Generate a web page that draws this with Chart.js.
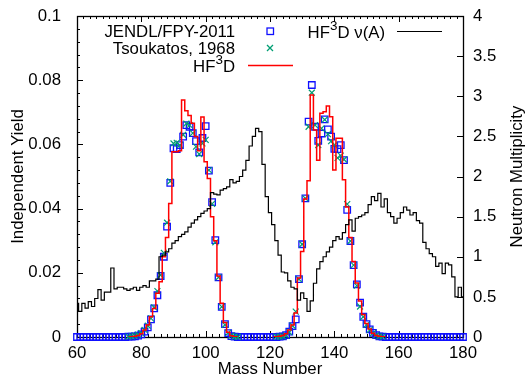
<!DOCTYPE html>
<html>
<head>
<meta charset="utf-8">
<script src="https://cdn.jsdelivr.net/npm/chart.js@4.4.1/dist/chart.umd.min.js"></script>
<style>
  html, body { margin: 0; padding: 0; background: #fff; }
</style>
</head>
<body>
<canvas id="yieldChart" width="532" height="380"></canvas>
<script>
// mass numbers A = 60 .. 180
const massNumbers = [
  60, 61, 62, 63, 64, 65, 66, 67, 68, 69,
  70, 71, 72, 73, 74, 75, 76, 77, 78, 79,
  80, 81, 82, 83, 84, 85, 86, 87, 88, 89,
  90, 91, 92, 93, 94, 95, 96, 97, 98, 99,
  100, 101, 102, 103, 104, 105, 106, 107, 108, 109,
  110, 111, 112, 113, 114, 115, 116, 117, 118, 119,
  120, 121, 122, 123, 124, 125, 126, 127, 128, 129,
  130, 131, 132, 133, 134, 135, 136, 137, 138, 139,
  140, 141, 142, 143, 144, 145, 146, 147, 148, 149,
  150, 151, 152, 153, 154, 155, 156, 157, 158, 159,
  160, 161, 162, 163, 164, 165, 166, 167, 168, 169,
  170, 171, 172, 173, 174, 175, 176, 177, 178, 179,
  180
];

// JENDL/FPY-2011 independent yield
const jendlYield = [
  0, 0, 0, 0, 0, 0, 0, 0, 0, 0,
  0, 0, 0, 0, 0, 0, 0.0001, 0.0001, 0.0002, 0.0004,
  0.0008, 0.0017, 0.003, 0.0055, 0.0089, 0.013, 0.019, 0.025, 0.0344, 0.048,
  0.0588, 0.0585, 0.0598, 0.0624, 0.066, 0.0655, 0.0635, 0.061, 0.0575, 0.062,
  0.0657, 0.0518, 0.042, 0.0302, 0.0186, 0.0094, 0.004, 0.0012, 0.0003, 0.0001,
  0, 0, 0, 0, 0, 0, 0, 0, 0, 0,
  0, 0, 0, 0.0001, 0.0002, 0.0006, 0.0017, 0.0034, 0.0055, 0.018,
  0.0289, 0.0432, 0.0671, 0.0785, 0.0655, 0.0611, 0.0634, 0.0678, 0.0647, 0.0624,
  0.0586, 0.0585, 0.0598, 0.0551, 0.0396, 0.0299, 0.0224, 0.0164, 0.0107, 0.0063,
  0.004, 0.0024, 0.0013, 0.0006, 0.0002, 0.0001, 0, 0, 0, 0,
  0, 0, 0, 0, 0, 0, 0, 0, 0, 0,
  0, 0, 0, 0, 0, 0, 0, 0, 0, 0,
  0
];

// Tsoukatos, 1968
const tsoukatosYield = [
  null, null, null, null, null, null, null, null, null, null,
  null, null, null, null, null, null, 0.0001, 0.0002, 0.0004, 0.0007,
  0.0012, 0.0022, 0.0035, 0.0058, 0.0092, 0.0143, 0.0193, 0.0262, 0.0356, 0.0485,
  0.0603, 0.0605, 0.0598, 0.063, 0.0665, 0.066, 0.0635, 0.0593, 0.057, 0.0603,
  0.0614, 0.052, 0.0415, 0.0295, 0.0186, 0.0094, 0.0038, 0.0013, 0.0004, 0.0001,
  0, null, null, null, null, null, null, null, null, null,
  null, null, 0.0001, 0.0001, 0.0002, 0.0005, 0.0015, 0.0035, 0.0079, 0.018,
  0.0289, 0.0432, 0.0655, 0.0761, 0.066, 0.0598, 0.065, 0.0677, 0.0632, 0.061,
  0.0598, 0.0558, 0.0565, 0.0553, 0.0414, 0.0299, 0.0224, 0.016, 0.0095, 0.0063,
  0.0038, 0.0022, 0.0012, 0.0005, 0.0002, 0.0001, null, null, null, null,
  null, null, null, null, null, null, null, null, null, null,
  null, null, null, null, null, null, null, null, null, null,
  null
];

// HF3D calculated yield
const hf3dYield = [
  null, null, null, null, null, null, null, null, null, null,
  null, null, null, null, null, null, 0, 0.0001, 0.0002, 0.0005,
  0.001, 0.0022, 0.0037, 0.0063, 0.0089, 0.0136, 0.0172, 0.025, 0.031, 0.0416,
  0.0577, 0.0577, 0.058, 0.0738, 0.0705, 0.069, 0.0666, 0.0625, 0.058, 0.0685,
  0.0546, 0.0494, 0.0375, 0.03, 0.019, 0.0105, 0.0045, 0.0015, 0.0004, 0.0001,
  0, null, null, null, null, null, null, null, null, null,
  null, 0, 0.0001, 0.0002, 0.0005, 0.001, 0.0022, 0.0037, 0.0075, 0.0184,
  0.0266, 0.043, 0.0487, 0.0754, 0.0645, 0.0551, 0.0697, 0.0702, 0.072, 0.0686,
  0.052, 0.0619, 0.0619, 0.049, 0.0405, 0.031, 0.0235, 0.0168, 0.0112, 0.007,
  0.0042, 0.0025, 0.0012, 0.0005, 0.0002, 0.0001, 0, null, null, null,
  null, null, null, null, null, null, null, null, null, null,
  null, null, null, null, null, null, null, null, null, null,
  null
];

// HF3D neutron multiplicity nu(A)
const hf3dNu = [
  0.42, 0.32, 0.42, 0.36, 0.44, 0.38, 0.48, 0.59, 0.46, 0.56,
  0.56, 0.86, 0.6, 0.62, 0.62, 0.6, 0.58, 0.6, 0.62, 0.58,
  0.62, 0.64, 0.62, 0.7, 0.7, 0.72, 1.0, 1.02, 1.06, 1.1,
  1.17, 1.2, 1.25, 1.28, 1.31, 1.37, 1.42, 1.46, 1.5, 1.54,
  1.57, 1.6, 1.8, 1.78, 1.77, 1.83, 1.85, 1.87, 1.96, 1.92,
  1.94, 2.0, 2.08, 2.2, 2.38, 2.5, 2.6, 2.56, 2.15, 1.75,
  1.55, 1.4, 1.2, 1.02, 0.81, 0.8, 0.7, 0.62, 0.6, 0.46,
  0.55, 0.48, 0.32, 0.45, 0.67, 0.85, 0.94, 1.0, 1.06, 1.12,
  1.2, 1.25, 1.22, 1.3, 1.4, 1.46, 1.32, 1.48, 1.5, 1.52,
  1.55, 1.65, 1.75, 1.7, 1.79, 1.62, 1.72, 1.55, 1.5, 1.42,
  1.48, 1.55, 1.62, 1.58, 1.52, 1.55, 1.45, 1.42, 1.18, 1.1,
  1.04, 1.0, 0.88, 0.92, 0.79, 0.92, 0.9, 0.75, 0.5, 0.62,
  0.5
];

const massTicks = [60, 80, 100, 120, 140, 160, 180];
const yieldTicks = [0, 0.02, 0.04, 0.06, 0.08, 0.1];
const nuTicks = [0, 0.5, 1, 1.5, 2, 2.5, 3, 3.5, 4];

const FONT = "'Liberation Sans', Arial, Helvetica, sans-serif";
const FS = 16.8;

function toPoints(values) {
  return massNumbers.map((a, i) => ({ x: a, y: values[i] }));
}

// draw text with "HF^3D" style superscript, right aligned at xr
function drawRich(ctx, parts, xr, baseline) {
  let total = 0;
  parts.forEach(p => {
    ctx.font = (p.sup ? FS * 0.8 : FS) + 'px ' + FONT;
    p.w = ctx.measureText(p.t).width;
    total += p.w;
  });
  let x = xr - total;
  ctx.textAlign = 'left';
  ctx.textBaseline = 'alphabetic';
  parts.forEach(p => {
    ctx.font = (p.sup ? FS * 0.8 : FS) + 'px ' + FONT;
    ctx.fillText(p.t, x, p.sup ? baseline - 8 : baseline);
    x += p.w;
  });
}

// fixed plot box: no extra padding from tick labels
function fixBox(size) {
  return s => {
    if (s.isHorizontal()) s.height = size; else s.width = size;
    s.paddingTop = 0;
    s.paddingBottom = 0;
    s.paddingLeft = 0;
    s.paddingRight = 0;
  };
}

const framePlugin = {
  id: 'frameTicks',
  beforeDatasetsDraw(chart) {
    const { ctx, chartArea: a, scales } = chart;
    ctx.save();
    ctx.strokeStyle = '#000';
    ctx.lineWidth = 1;
    ctx.beginPath();
    // x ticks on bottom and top (minor every 2)
    for (let v = 60; v <= 180; v += 2) {
      const px = Math.round(scales.x.getPixelForValue(v)) + 0.5;
      const len = v % 20 === 0 ? 6 : 3;
      ctx.moveTo(px, a.bottom); ctx.lineTo(px, a.bottom - len);
      ctx.moveTo(px, a.top); ctx.lineTo(px, a.top + len);
    }
    // left yield ticks (minor every 0.004)
    for (let i = 0; i <= 25; i++) {
      const py = Math.round(scales.y.getPixelForValue(i * 0.004)) + 0.5;
      const len = i % 5 === 0 ? 6 : 3;
      ctx.moveTo(a.left, py); ctx.lineTo(a.left + len, py);
    }
    // right multiplicity ticks
    nuTicks.forEach(v => {
      const py = Math.round(scales.y2.getPixelForValue(v)) + 0.5;
      ctx.moveTo(a.right, py); ctx.lineTo(a.right - 6, py);
    });
    ctx.stroke();
    ctx.lineWidth = 1.3;
    ctx.strokeRect(a.left + 0.5, a.top + 0.5, a.right - a.left, a.bottom - a.top);
    ctx.restore();
  },
  afterDraw(chart) {
    const { ctx, chartArea: a } = chart;
    ctx.save();
    ctx.fillStyle = '#000';
    ctx.font = FS + 'px ' + FONT;

    // axis titles
    ctx.textAlign = 'center';
    ctx.textBaseline = 'middle';
    ctx.fillText('Mass Number', (a.left + a.right) / 2, 369);
    ctx.save();
    ctx.translate(18, (a.top + a.bottom) / 2);
    ctx.rotate(-Math.PI / 2);
    ctx.fillText('Independent Yield', 0, 0);
    ctx.restore();
    ctx.save();
    ctx.translate(517, (a.top + a.bottom) / 2);
    ctx.rotate(-Math.PI / 2);
    ctx.fillText('Neutron Multiplicity', 0, 0);
    ctx.restore();

    // key
    ctx.textAlign = 'right';
    ctx.textBaseline = 'alphabetic';
    ctx.fillText('JENDL/FPY-2011', 235, 37);
    ctx.fillText('Tsoukatos, 1968', 235, 54);
    drawRich(ctx, [{ t: 'HF' }, { t: '3', sup: true }, { t: 'D' }], 235, 72);
    drawRich(ctx, [{ t: 'HF' }, { t: '3', sup: true }, { t: 'D \u03bd(A)' }], 385, 38);

    ctx.lineWidth = 1.3;
    ctx.strokeStyle = '#1010ff';
    ctx.strokeRect(267, 28, 6.5, 6.5);
    ctx.strokeStyle = '#009e73';
    ctx.beginPath();
    ctx.moveTo(267, 45); ctx.lineTo(273, 51);
    ctx.moveTo(273, 45); ctx.lineTo(267, 51);
    ctx.stroke();
    ctx.strokeStyle = '#ff0000';
    ctx.lineWidth = 1.5;
    ctx.beginPath();
    ctx.moveTo(248, 65.5); ctx.lineTo(293, 65.5);
    ctx.stroke();
    ctx.strokeStyle = '#000';
    ctx.lineWidth = 1.2;
    ctx.beginPath();
    ctx.moveTo(397, 31.5); ctx.lineTo(442, 31.5);
    ctx.stroke();
    ctx.restore();
  }
};

new Chart(document.getElementById('yieldChart'), {
  type: 'line',
  data: {
    datasets: [
      {
        label: 'JENDL/FPY-2011',
        data: toPoints(jendlYield),
        yAxisID: 'y',
        showLine: false,
        pointStyle: 'rect',
        pointRadius: 4.6,
        pointBorderWidth: 1.3,
        pointBorderColor: '#1010ff',
        pointBackgroundColor: 'rgba(0,0,0,0)',
        clip: false,
        order: 4
      },
      {
        label: 'Tsoukatos, 1968',
        data: toPoints(tsoukatosYield),
        yAxisID: 'y',
        showLine: false,
        pointStyle: 'crossRot',
        pointRadius: 4.2,
        pointBorderWidth: 1.2,
        pointBorderColor: '#009e73',
        clip: false,
        order: 3
      },
      {
        label: 'HF3D',
        data: toPoints(hf3dYield),
        yAxisID: 'y',
        stepped: 'middle',
        borderColor: '#ff0000',
        borderWidth: 1.5,
        pointRadius: 0,
        spanGaps: false,
        order: 2
      },
      {
        label: 'HF3D nu(A)',
        data: toPoints(hf3dNu),
        yAxisID: 'y2',
        stepped: 'middle',
        borderColor: '#000000',
        borderWidth: 1.2,
        pointRadius: 0,
        order: 1
      }
    ]
  },
  options: {
    responsive: false,
    animation: false,
    events: [],
    layout: { padding: { top: 16, left: 0, right: 0, bottom: 0 } },
    plugins: { legend: { display: false }, tooltip: { enabled: false } },
    scales: {
      x: {
        type: 'linear',
        position: 'bottom',
        min: 60,
        max: 180,
        grid: { display: false, drawTicks: false },
        border: { display: false },
        afterBuildTicks: s => { s.ticks = massTicks.map(v => ({ value: v })); },
        afterFit: fixBox(43),
        ticks: { color: '#000', padding: 6, maxRotation: 0, font: { family: FONT, size: FS } }
      },
      y: {
        type: 'linear',
        position: 'left',
        min: 0,
        max: 0.1,
        grid: { display: false, drawTicks: false },
        border: { display: false },
        afterBuildTicks: s => { s.ticks = yieldTicks.map(v => ({ value: v })); },
        afterFit: fixBox(77),
        ticks: { color: '#000', padding: 16, font: { family: FONT, size: FS }, callback: v => String(v) }
      },
      y2: {
        type: 'linear',
        position: 'right',
        min: 0,
        max: 4,
        grid: { display: false, drawTicks: false },
        border: { display: false },
        afterBuildTicks: s => { s.ticks = nuTicks.map(v => ({ value: v })); },
        afterFit: fixBox(69),
        ticks: { color: '#000', padding: 10, font: { family: FONT, size: FS }, callback: v => String(v) }
      }
    }
  },
  plugins: [framePlugin]
});
</script>
</body>
</html>
